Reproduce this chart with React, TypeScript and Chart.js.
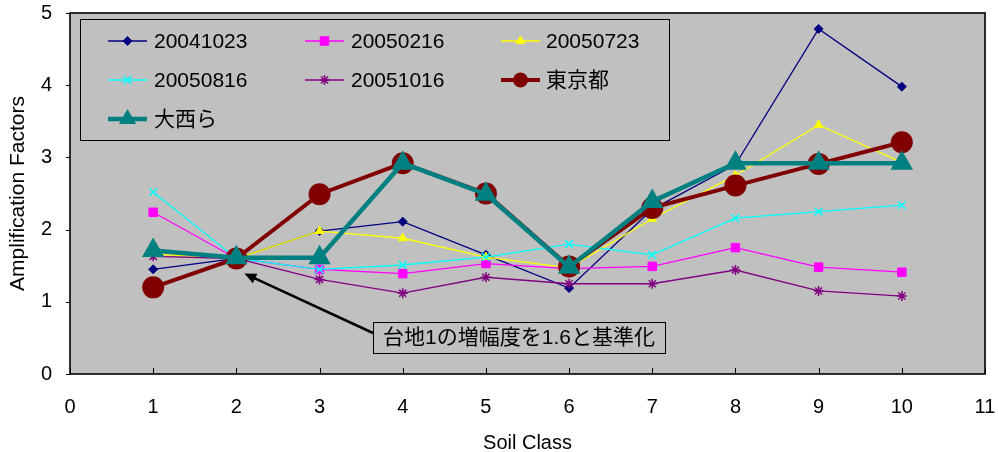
import { useEffect, useRef } from "react";
import { Chart, registerables } from "chart.js";
import { drawPoint } from "chart.js/helpers";

Chart.register(...registerables);

// Soil classes on the horizontal axis
const soilClasses = [1, 2, 3, 4, 5, 6, 7, 8, 9, 10];
const xTickValues = [0, 1, 2, 3, 4, 5, 6, 7, 8, 9, 10, 11];
const yTickValues = [0, 1, 2, 3, 4, 5];

// Amplification factors per earthquake record (normalised so class 2 = 1.6)
const eq20041023 = [1.45, 1.6, 1.98, 2.11, 1.65, 1.19, 2.28, 2.9, 4.78, 3.98];
const eq20050216 = [2.24, 1.6, 1.45, 1.39, 1.53, 1.46, 1.49, 1.75, 1.48, 1.41];
const eq20050723 = [1.66, 1.6, 1.98, 1.88, 1.62, 1.47, 2.15, 2.75, 3.45, 2.93];
const eq20050816 = [2.52, 1.6, 1.45, 1.51, 1.62, 1.8, 1.65, 2.16, 2.25, 2.34];
const eq20051016 = [1.63, 1.6, 1.31, 1.12, 1.34, 1.25, 1.25, 1.44, 1.15, 1.08];
const tokyoValues = [1.2, 1.6, 2.49, 2.92, 2.5, 1.49, 2.3, 2.61, 2.91, 3.21];
const onishiValues = [1.71, 1.61, 1.61, 2.92, 2.49, 1.48, 2.39, 2.92, 2.92, 2.92];

const seriesLabels = ["20041023", "20050216", "20050723", "20050816", "20051016", "東京都", "大西ら"];
const xTitle = "Soil Class";
const yTitle = "Amplification Factors";
const noteText = "台地1の増幅度を1.6と基準化";

const FONT = "'Liberation Sans', 'Noto Sans CJK JP', sans-serif";
const PLOT_BG = "#C0C0C0";

const toPoints = (vals: number[]) => soilClasses.map((x, i) => ({ x, y: vals[i] }));

type Style = {
  color: string;
  width: number;
  pointStyle: any;
  radius: number;
  legendRadius: number;
  pointBorderWidth: number;
};

const styles: Style[] = [
  { color: "#000080", width: 1.3, pointStyle: "rectRot", radius: 4.5, legendRadius: 4.5, pointBorderWidth: 1 },
  { color: "#FF00FF", width: 1.3, pointStyle: "rect", radius: 6, legendRadius: 6, pointBorderWidth: 1 },
  { color: "#FFFF00", width: 1.3, pointStyle: "triangle", radius: 5, legendRadius: 5, pointBorderWidth: 1 },
  { color: "#00FFFF", width: 1.3, pointStyle: "crossRot", radius: 5.5, legendRadius: 5.5, pointBorderWidth: 1.5 },
  { color: "#800080", width: 1.3, pointStyle: "star", radius: 5, legendRadius: 5, pointBorderWidth: 1.5 },
  { color: "#800000", width: 4, pointStyle: "circle", radius: 11, legendRadius: 7.5, pointBorderWidth: 0 },
  { color: "#008080", width: 4.5, pointStyle: "triangle", radius: 13, legendRadius: 10, pointBorderWidth: 0 },
];

const seriesValues = [eq20041023, eq20050216, eq20050723, eq20050816, eq20051016, tokyoValues, onishiValues];

// Legend grid geometry (3 columns)
const legendBox = { left: 80, top: 19, right: 669, bottom: 140 };
const legendCols = [
  { lineFrom: 108, lineTo: 147, text: 154 },
  { lineFrom: 305, lineTo: 344, text: 351 },
  { lineFrom: 501, lineTo: 540, text: 546 },
];
const legendRows = [41, 80, 119];

const plotDecor = {
  id: "plotDecor",
  beforeDatasetsDraw(chart: any) {
    const { ctx, chartArea: a } = chart;
    ctx.save();
    ctx.fillStyle = PLOT_BG;
    ctx.fillRect(a.left, a.top, a.right - a.left, a.bottom - a.top);
    ctx.restore();
  },
  afterDatasetsDraw(chart: any) {
    const { ctx, chartArea: a, scales } = chart;
    ctx.save();
    // frame
    ctx.strokeStyle = "#000";
    ctx.lineWidth = 1.6;
    ctx.strokeRect(a.left, a.top, a.right - a.left, a.bottom - a.top);
    // tick marks: x inward, y outward
    ctx.lineWidth = 1;
    ctx.beginPath();
    for (const v of xTickValues) {
      const px = Math.round(scales.x.getPixelForValue(v)) + 0.5;
      ctx.moveTo(px, a.bottom);
      ctx.lineTo(px, a.bottom - 6);
    }
    for (const v of yTickValues) {
      const py = Math.round(scales.y.getPixelForValue(v)) + 0.5;
      ctx.moveTo(a.left, py);
      ctx.lineTo(a.left - 4, py);
    }
    ctx.stroke();

    // axis titles
    ctx.fillStyle = "#000";
    ctx.font = `20px ${FONT}`;
    ctx.textAlign = "center";
    ctx.textBaseline = "middle";
    ctx.fillText(xTitle, (a.left + a.right) / 2, 443);
    ctx.translate(18, (a.top + a.bottom) / 2);
    ctx.rotate(-Math.PI / 2);
    ctx.font = `21px ${FONT}`;
    ctx.fillText(yTitle, 0, 0);
    ctx.restore();
  },
  afterDraw(chart: any) {
    const { ctx, scales } = chart;
    ctx.save();
    // legend box
    ctx.fillStyle = PLOT_BG;
    ctx.fillRect(legendBox.left, legendBox.top, legendBox.right - legendBox.left, legendBox.bottom - legendBox.top);
    ctx.strokeStyle = "#000";
    ctx.lineWidth = 1;
    ctx.strokeRect(legendBox.left + 0.5, legendBox.top + 0.5, legendBox.right - legendBox.left, legendBox.bottom - legendBox.top);

    chart.data.datasets.forEach((ds: any, i: number) => {
      const col = legendCols[i % 3];
      const y = legendRows[Math.floor(i / 3)];
      const st = styles[i];
      ctx.strokeStyle = ds.borderColor;
      ctx.lineWidth = ds.borderWidth;
      ctx.beginPath();
      ctx.moveTo(col.lineFrom, y);
      ctx.lineTo(col.lineTo, y);
      ctx.stroke();
      ctx.fillStyle = ds.pointBackgroundColor;
      ctx.strokeStyle = ds.pointBorderColor;
      ctx.lineWidth = st.pointBorderWidth;
      drawPoint(ctx, { pointStyle: st.pointStyle, radius: st.legendRadius, rotation: 0, borderWidth: st.pointBorderWidth } as any, (col.lineFrom + col.lineTo) / 2, y);
      ctx.fillStyle = "#000";
      ctx.font = `21px ${FONT}`;
      ctx.textAlign = "left";
      ctx.textBaseline = "middle";
      ctx.fillText(ds.label, col.text, y + 1);
    });

    // annotation with arrow pointing at the normalised class-2 value
    const tipX = scales.x.getPixelForValue(2) + 8;
    const tipY = scales.y.getPixelForValue(1.6) + 15;
    const box = { left: 373, top: 322, width: 292, height: 31 };
    const startX = box.left;
    const startY = box.top + 11;
    ctx.strokeStyle = "#000";
    ctx.lineWidth = 2.5;
    ctx.beginPath();
    ctx.moveTo(startX, startY);
    const ang = Math.atan2(tipY - startY, tipX - startX);
    const headLen = 13;
    ctx.lineTo(tipX - Math.cos(ang) * headLen * 0.8, tipY - Math.sin(ang) * headLen * 0.8);
    ctx.stroke();
    ctx.fillStyle = "#000";
    ctx.beginPath();
    ctx.moveTo(tipX, tipY);
    ctx.lineTo(tipX - headLen * Math.cos(ang - 0.42), tipY - headLen * Math.sin(ang - 0.42));
    ctx.lineTo(tipX - headLen * Math.cos(ang + 0.42), tipY - headLen * Math.sin(ang + 0.42));
    ctx.closePath();
    ctx.fill();

    ctx.fillStyle = PLOT_BG;
    ctx.fillRect(box.left, box.top, box.width, box.height);
    ctx.lineWidth = 1;
    ctx.strokeRect(box.left + 0.5, box.top + 0.5, box.width, box.height);
    ctx.fillStyle = "#000";
    ctx.font = `21px ${FONT}`;
    ctx.textAlign = "center";
    ctx.textBaseline = "middle";
    ctx.fillText(noteText, box.left + box.width / 2, box.top + box.height / 2 + 1);
    ctx.restore();
  },
};

export default function App() {
  const canvasRef = useRef<HTMLCanvasElement>(null);

  useEffect(() => {
    const canvas = canvasRef.current;
    if (!canvas) return;
    const datasets = seriesLabels.map((label, i) => {
      const st = styles[i];
      return {
        label,
        data: toPoints(seriesValues[i]),
        borderColor: st.color,
        backgroundColor: st.color,
        borderWidth: st.width,
        pointStyle: st.pointStyle,
        pointRadius: st.radius,
        pointHoverRadius: st.radius,
        pointBackgroundColor: st.color,
        pointBorderColor: st.color,
        pointBorderWidth: st.pointBorderWidth,
        tension: 0,
        fill: false,
        order: seriesLabels.length - 1 - i,
      };
    });

    const chart = new Chart(canvas, {
      type: "line",
      data: { datasets },
      plugins: [plotDecor],
      options: {
        animation: false,
        responsive: false,
        devicePixelRatio: 1,
        layout: { padding: { left: 0, top: 13, right: 10, bottom: 0 } },
        plugins: { legend: { display: false }, tooltip: { enabled: false } },
        scales: {
          x: {
            type: "linear",
            min: 0,
            max: 11,
            offset: false,
            afterBuildTicks: (s: any) => {
              s.ticks = xTickValues.map((value) => ({ value }));
            },
            afterFit: (s: any) => {
              s.height = 78;
              s.paddingLeft = 0;
              s.paddingRight = 0;
            },
            grid: { display: false, drawTicks: false },
            border: { display: false },
            ticks: { color: "#000", font: { family: FONT, size: 20 }, padding: 21, maxRotation: 0, autoSkip: false },
          },
          y: {
            type: "linear",
            min: 0,
            max: 5,
            afterBuildTicks: (s: any) => {
              s.ticks = yTickValues.map((value) => ({ value }));
            },
            afterFit: (s: any) => {
              s.width = 70;
              s.paddingTop = 0;
              s.paddingBottom = 0;
            },
            grid: { display: false, drawTicks: false },
            border: { display: false },
            ticks: { color: "#000", font: { family: FONT, size: 20 }, padding: 18 },
          },
        },
      },
    });
    // nudge: keep the plot frame at the intended right edge
    const area = chart.chartArea;
    if (area.right < 987) {
      const pad = (chart.options.layout as any).padding;
      pad.right = 10 - (988 - area.right);
      chart.update();
    }
    return () => chart.destroy();
  }, []);

  return (
    <div style={{ position: "absolute", left: 0, top: 0, width: 998, height: 452, background: "#fff" }}>
      <canvas ref={canvasRef} width={998} height={452} style={{ display: "block" }} />
    </div>
  );
}
